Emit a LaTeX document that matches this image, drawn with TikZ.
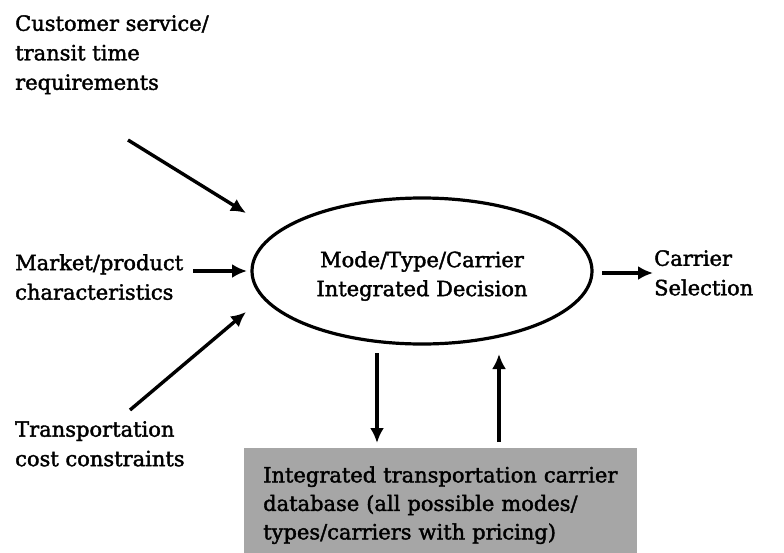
\documentclass[tikz,border=0pt]{standalone}
\usepackage{fontspec}
\setmainfont{DejaVu Serif}[UprightFeatures={FakeBold=1.8}]
\usetikzlibrary{arrows.meta,shapes.geometric}
\definecolor{dbgray}{RGB}{166,166,166}
\tikzset{
  lbl/.style={anchor=north west, align=left, inner sep=0pt,
    font=\fontsize{21}{29.5}\selectfont},
  arr/.style={line width=3.4pt, -{Latex[length=15pt,width=14pt]}},
}
\begin{document}
\begin{tikzpicture}[x=1pt,y=-1pt]
\useasboundingbox (0,0) rectangle (784,552);

% central decision ellipse and its label
\node[ellipse, draw, line width=3.2pt, minimum width=340pt, minimum height=146pt] (dec) at (422,271) {};
\node[align=center, inner sep=0pt, font=\fontsize{21}{29}\selectfont] (decl) at (422,276)
  {Mode/Type/Carrier\\Integrated Decision};

% input labels
\node[lbl] (cs) at (15,15) {Customer service/\\transit time\\requirements};
\node[lbl] (mp) at (15,254) {Market/product\\characteristics};
\node[lbl] (tc) at (15,421) {Transportation\\cost constraints};

% output label
\node[lbl] (sel) at (654,250) {Carrier\\Selection};

% carrier database
\node[draw=none, fill=dbgray, anchor=north west, minimum width=393pt, minimum height=114pt,
      text width=355pt, inner xsep=19pt, align=left,
      font=\fontsize{21}{28.5}\selectfont] (db) at (244,448)
  {Integrated transportation carrier\\database (all possible modes/\\types/carriers with pricing)};

% connector end points
\coordinate (csA) at (128,140);
\coordinate (csB) at (246,213);
\coordinate (mpA) at (193,271);
\coordinate (mpB) at (247,271);
\coordinate (tcA) at (130,410);
\coordinate (tcB) at (246,312);
\coordinate (outA) at (602,273);
\coordinate (outB) at (653,273);
\coordinate (dnA) at (377,353);
\coordinate (dnB) at (377,443);
\coordinate (upA) at (499,442);
\coordinate (upB) at (499,354);

\draw[arr] (csA) -- (csB);
\draw[arr] (mpA) -- (mpB);
\draw[arr] (tcA) -- (tcB);
\draw[arr] (outA) -- (outB);
\draw[arr] (dnA) -- (dnB);
\draw[arr] (upA) -- (upB);
\end{tikzpicture}
\end{document}
